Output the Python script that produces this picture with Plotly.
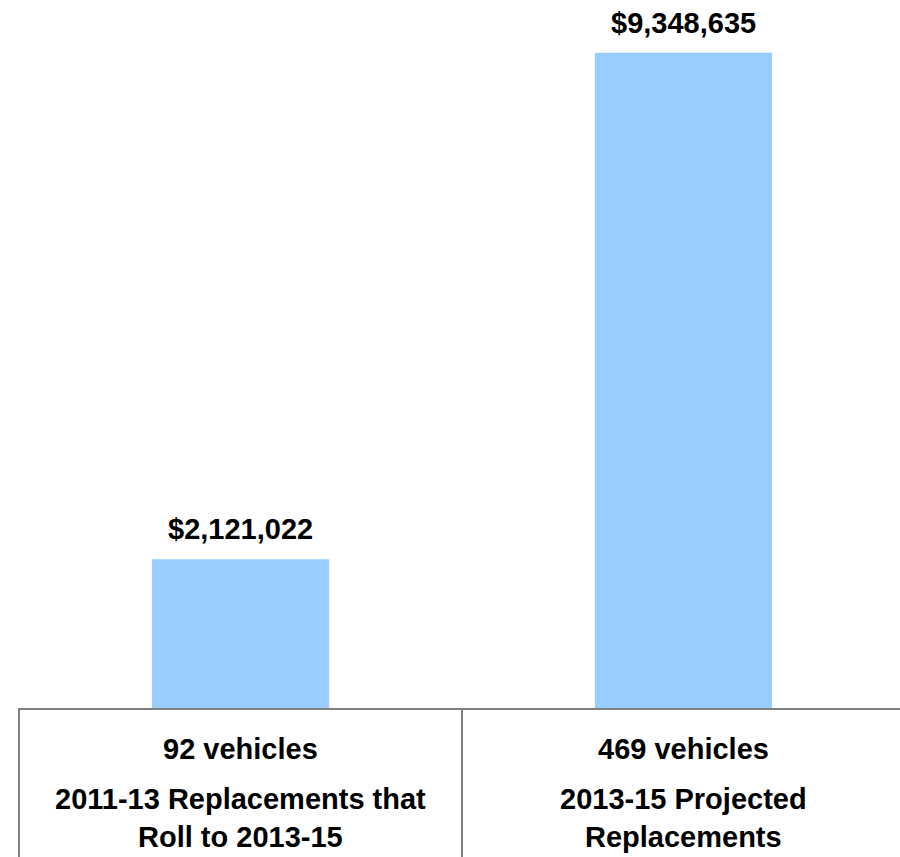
import plotly.graph_objects as go

categories = ["2011-13 Replacements that<br>Roll to 2013-15", "2013-15 Projected<br>Replacements"]
vehicle_counts = ["92 vehicles", "469 vehicles"]
values = [2121022, 9348635]

bar_color = "#99CCFF"
line_color = "#808080"
font_family = "Liberation Sans, Arial, sans-serif"
fs = 29

x_pos = [0, 1]

fig = go.Figure()
fig.add_trace(go.Bar(x=x_pos, y=values, width=0.4, marker=dict(color=bar_color, line=dict(width=0)),
                     hoverinfo="skip"))

annotations = []
for xp, v in zip(x_pos, values):
    annotations.append(dict(x=xp, y=v, xref="x", yref="y", text="${:,}".format(v), showarrow=False,
                            yanchor="bottom", yshift=12,
                            font=dict(family=font_family, size=fs, color="black", weight="bold")))
for xp, vc, cat in zip(x_pos, vehicle_counts, categories):
    annotations.append(dict(x=xp, y=0, xref="x", yref="paper", text=vc, showarrow=False,
                            yanchor="top", yshift=-23,
                            font=dict(family=font_family, size=fs, color="black", weight="bold")))
    annotations.append(dict(x=xp, y=0, xref="x", yref="paper", text=cat, showarrow=False,
                            yanchor="top", yshift=-73,
                            font=dict(family=font_family, size=fs, color="black", weight="bold")))

shapes = [
    dict(type="line", xref="paper", yref="paper", x0=0, x1=0, y0=0, y1=-160, ysizemode="pixel", yanchor=0,
         line=dict(color=line_color, width=2)),
    dict(type="line", xref="x", yref="paper", x0=0.5, x1=0.5, y0=0, y1=-160, ysizemode="pixel", yanchor=0,
         line=dict(color=line_color, width=2)),
]

fig.update_layout(
    width=900, height=857,
    margin=dict(l=19, r=0, t=0, b=149),
    paper_bgcolor="white", plot_bgcolor="white",
    showlegend=False,
    xaxis=dict(range=[-0.5, -0.5 + 881 / 443], showgrid=False, zeroline=False, showticklabels=False,
               ticks="", showline=True, linecolor=line_color, linewidth=2, fixedrange=True),
    yaxis=dict(range=[0, 10100000], showgrid=False, zeroline=False, showticklabels=False, ticks="",
               showline=False, fixedrange=True),
    annotations=annotations,
    shapes=shapes,
)

fig.write_html("out.html")
